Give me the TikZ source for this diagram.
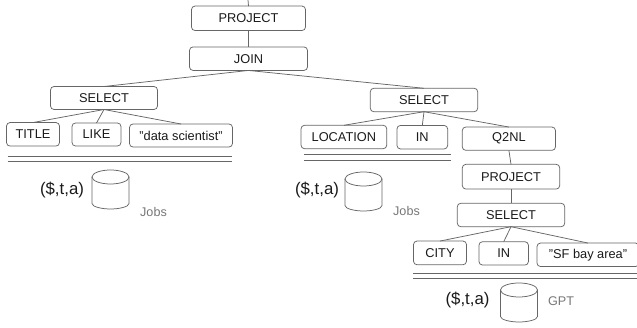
\documentclass[tikz,border=0pt]{standalone}
\usepackage{fontspec}
\setmainfont{Liberation Sans}
\definecolor{edgegray}{HTML}{666666}
\definecolor{labelgray}{HTML}{777777}
\definecolor{inkblack}{HTML}{1A1A1A}
\tikzset{
  opbox/.style={draw=edgegray,line width=0.75pt,rounded corners=3.5pt,inner sep=0pt,outer sep=0pt,
    font=\fontsize{12.8}{14}\selectfont,text=inkblack,align=center},
  link/.style={draw=edgegray,line width=0.75pt},
  rule/.style={draw=edgegray,line width=0.75pt},
  db/.pic={
    \draw[edgegray,line width=0.75pt] (0,-12.5) ellipse [x radius=18.5,y radius=7];
    \draw[edgegray,line width=0.75pt] (-18.5,-12.5) -- (-18.5,14)
      .. controls (-18.5,17.5) and (-8,19.5) .. (0,19.5)
      .. controls (8,19.5) and (18.5,17.5) .. (18.5,14) -- (18.5,-12.5);
  },
  tuple/.style={font=\fontsize{16.8}{18}\selectfont,text=inkblack,inner sep=0pt},
  store/.style={font=\fontsize{12.6}{14}\selectfont,text=labelgray,inner sep=0pt},
}
\begin{document}
\begin{tikzpicture}[x=1pt,y=-1pt]
\useasboundingbox (0,0) rectangle (637,328);
\coordinate (top) at (248,0);
\node[opbox,minimum width=114pt,minimum height=24.5pt] (p1) at (248.5,18.3) {PROJECT};
\node[opbox,minimum width=118pt,minimum height=23.5pt] (join) at (248.5,58.7) {JOIN};
\node[opbox,minimum width=107pt,minimum height=23pt] (s1) at (104,98) {SELECT};
\node[opbox,minimum width=53pt,minimum height=23.5pt] (title) at (33,134.3) {TITLE};
\node[opbox,minimum width=49pt,minimum height=23pt] (like) at (96.5,134.5) {LIKE};
\node[opbox,minimum width=103pt,minimum height=23pt] (ds) at (181,135.5) {"data scientist"};
\node[opbox,minimum width=107.4pt,minimum height=23.4pt] (s2) at (424,100) {SELECT};
\node[opbox,minimum width=85.7pt,minimum height=23.4pt] (loc) at (343.9,137) {LOCATION};
\node[opbox,minimum width=50.7pt,minimum height=23.5pt] (in1) at (422.3,137.2) {IN};
\node[opbox,minimum width=93.2pt,minimum height=23.3pt] (q) at (508.9,138.7) {Q2NL};
\node[opbox,minimum width=97.4pt,minimum height=24.7pt] (p2) at (511,176.7) {PROJECT};
\node[opbox,minimum width=107.4pt,minimum height=23.4pt] (s3) at (511,215) {SELECT};
\node[opbox,minimum width=53pt,minimum height=23.7pt] (city) at (440,252.9) {CITY};
\node[opbox,minimum width=49.5pt,minimum height=23.3pt] (in2) at (503.7,253.4) {IN};
\node[opbox,minimum width=102pt,minimum height=23.5pt] (sf) at (588,254.8) {"SF bay area"};
\draw[link] (top) -- (p1.north);
\draw[link] (p1.south) -- (join.north);
\draw[link] (join.south) -- (s1.north);
\draw[link] (join.south) -- (s2.north);
\draw[link] (s1.south) -- (title.north);
\draw[link] (s1.south) -- (like.north);
\draw[link] (s1.south) -- (ds.north);
\draw[link] (s2.south) -- (loc.north);
\draw[link] (s2.south) -- (in1.north);
\draw[link] (s2.south) -- (q.north);
\draw[link] (q.south) -- (p2.north);
\draw[link] (p2.south) -- (s3.north);
\draw[link] (s3.south) -- (city.north);
\draw[link] (s3.south) -- (in2.north);
\draw[link] (s3.south) -- (sf.north);
\draw[rule] (7.5,156) -- (232,156);
\draw[rule] (7.5,161.5) -- (232,161.5);
\draw[rule] (304,154.7) -- (450.5,154.7);
\draw[rule] (304,160) -- (450.5,160);
\draw[rule] (413,273.5) -- (637,273.5);
\draw[rule] (413,278.7) -- (637,278.7);
\pic (c1) at (110.5,189.5) {db};
\pic (c2) at (363.5,191.5) {db};
\pic (c3) at (519,302.5) {db};
\node[tuple] (t1) at (62,190) {(\$,t,a)};
\node[tuple] (t2) at (317,190) {(\$,t,a)};
\node[tuple] (t3) at (467.5,300) {(\$,t,a)};
\node[store] (j1) at (153.5,212) {Jobs};
\node[store] (j2) at (406.5,211) {Jobs};
\node[store] (g) at (561,301) {GPT};
\end{tikzpicture}
\end{document}
